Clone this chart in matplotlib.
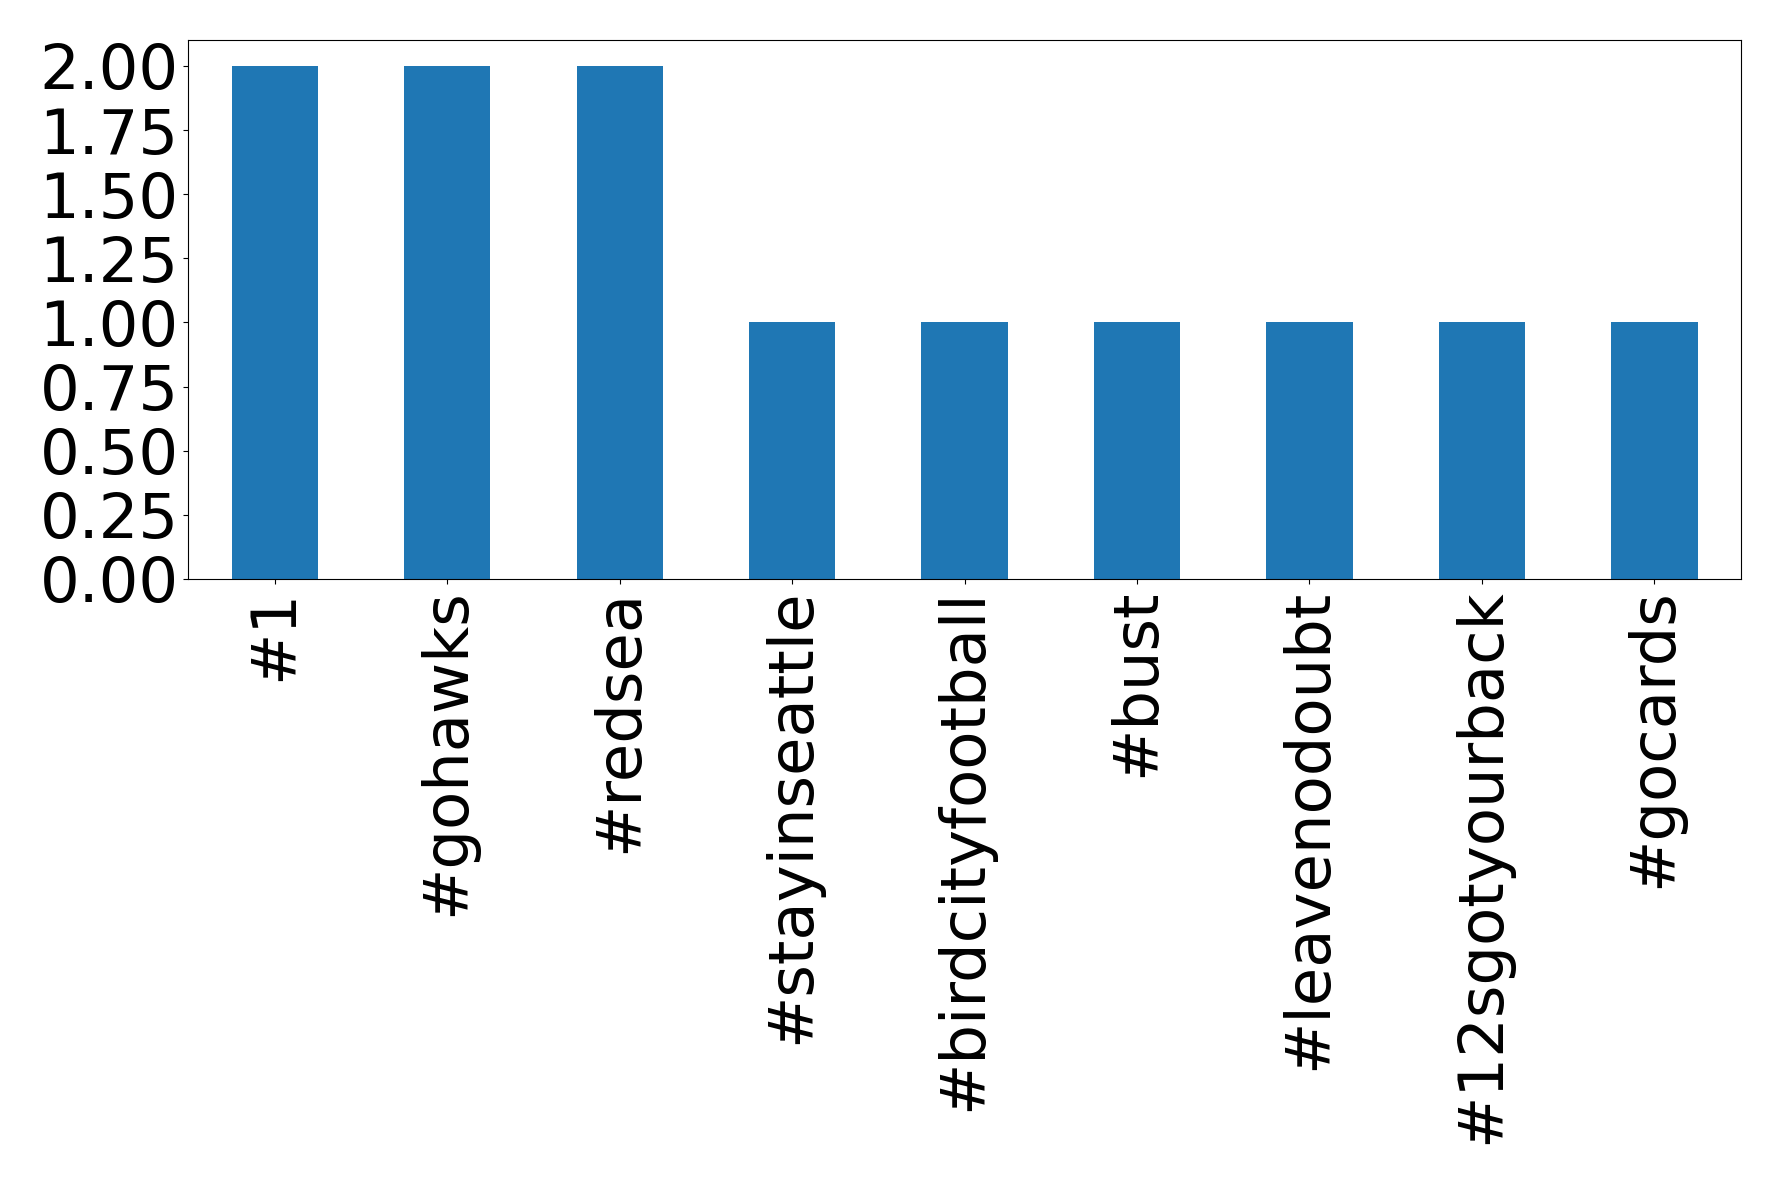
import matplotlib
matplotlib.use("Agg")
import matplotlib.pyplot as plt
import pandas as pd

# hashtag counts
hashtags = ['#1', '#gohawks', '#redsea', '#stayinseattle', '#birdcityfootball',
            '#bust', '#leavenodoubt', '#12sgotyourback', '#gocards']
counts = [2, 2, 2, 1, 1, 1, 1, 1, 1]

s = pd.Series(counts, index=hashtags)

fig = plt.figure(figsize=(17.78, 11.84), dpi=100)
ax = fig.add_axes([0.106, 0.511, 0.873, 0.455])
s.plot(kind='bar', ax=ax, color='#1f77b4', fontsize=45)
ax.set_ylim(0, 2.1)
ax.set_yticks([0, 0.25, 0.5, 0.75, 1.0, 1.25, 1.5, 1.75, 2.0])
ax.set_yticklabels(['0.00', '0.25', '0.50', '0.75', '1.00', '1.25', '1.50', '1.75', '2.00'])

fig.savefig('out.png', dpi=100)
